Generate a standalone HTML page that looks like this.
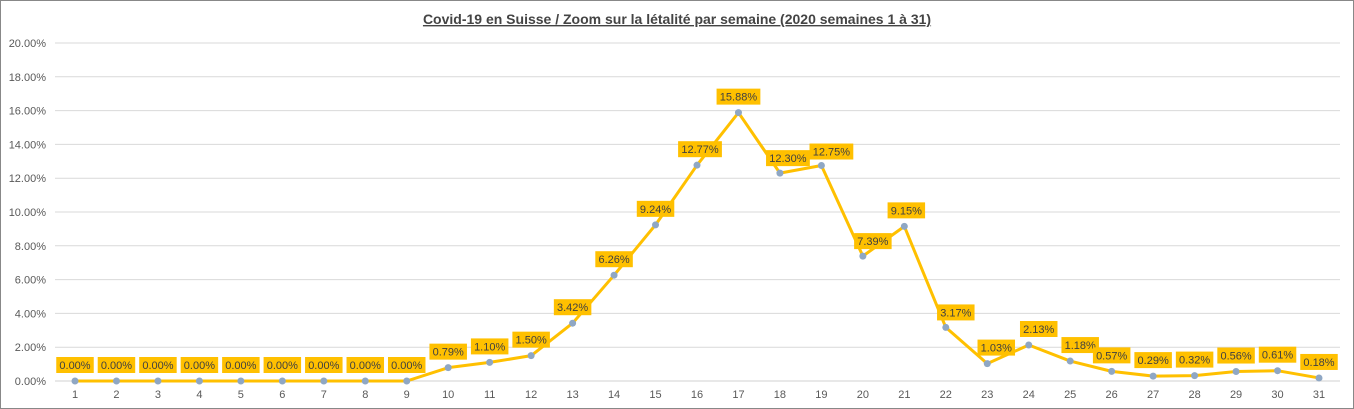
<!DOCTYPE html>
<html><head><meta charset="utf-8"><style>
body{margin:0;background:#fff}
svg{display:block;font-family:"Liberation Sans",Arial,sans-serif}
</style></head><body>
<svg id="c" width="1354" height="409">
<rect x="0.5" y="0.5" width="1353" height="408" fill="#fff" stroke="#888"/>
<text x="677" y="24" text-anchor="middle" font-size="14" font-weight="bold" fill="#444" text-decoration="underline">Covid-19 en Suisse / Zoom  sur la létalité par semaine (2020 semaines 1 à 31)</text>
<g id="grid"></g><g id="series"></g><g id="labels"></g>
</svg>
<script>
const weeks=[1,2,3,4,5,6,7,8,9,10,11,12,13,14,15,16,17,18,19,20,21,22,23,24,25,26,27,28,29,30,31];
const values=[0,0,0,0,0,0,0,0,0,0.79,1.10,1.50,3.42,6.26,9.24,12.77,15.88,12.30,12.75,7.39,9.15,3.17,1.03,2.13,1.18,0.57,0.29,0.32,0.56,0.61,0.18];
const yTicks=[0,2,4,6,8,10,12,14,16,18,20];
const labelDx=[0,0,0,0,0,0,0,0,0,0,0,0,0,0,0,3,0,8,10,10,2,10,9,10,10,0,0,0,0,0,0];
const labelDy=[-16,-16,-16,-16,-16,-16,-16,-16,-16,-16,-16,-16,-16,-16,-16,-16,-16,-15,-14,-15,-16,-15,-16,-16,-16,-16,-16,-16,-16,-16,-16];
const NS="http://www.w3.org/2000/svg";
const x=w=>75+(w-1)*(1319-75)/30;
const y=v=>381-v*16.9;
function mk(t,a,p){const e=document.createElementNS(NS,t);for(const k in a)e.setAttribute(k,a[k]);p.appendChild(e);return e;}
const G=document.getElementById('grid'),S=document.getElementById('series'),L=document.getElementById('labels');
yTicks.forEach(t=>{
 const l=mk('line',{x1:55,x2:1340,y1:y(t),y2:y(t),stroke:t===0?'#d0d0d0':'#d9d9d9'},G);
 
 
 const tx=mk('text',{x:46,y:y(t)+4,'text-anchor':'end','font-size':11,fill:'#595959'},G);
 tx.textContent=t.toFixed(2)+'%';
 
 
});
weeks.forEach(w=>{
 const tx=mk('text',{x:x(w),y:398,'text-anchor':'middle','font-size':11,fill:'#595959'},G);
 tx.textContent=w;
 
 
});
const pl=mk('polyline',{points:weeks.map((w,i)=>x(w)+','+y(values[i])).join(' '),fill:'none',stroke:'#ffc000','stroke-width':3,'stroke-linejoin':'round'},S);


weeks.forEach((w,i)=>{
 const c=mk('circle',{cx:x(w),cy:y(values[i]),r:3.5,fill:'#8fa7c4'},S);
 
 
 const s=values[i].toFixed(2)+'%';
 const bw=s.length*6.3+6,cx=x(w)+labelDx[i],cy=y(values[i])+labelDy[i];
 const r=mk('rect',{x:cx-bw/2,y:cy-8,width:bw,height:16,fill:'#ffc000'},L);
 
 
 const t=mk('text',{x:cx,y:cy+4,'text-anchor':'middle','font-size':11,fill:'#404040'},L);
 t.textContent=s;
 
 
});
</script>
</body></html>
